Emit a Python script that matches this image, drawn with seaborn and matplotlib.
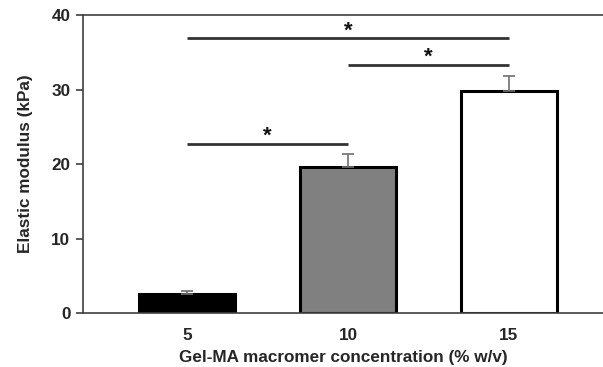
import numpy as np
import pandas as pd
import seaborn as sns
import matplotlib.pyplot as plt

sns.set_style("white")
plt.rcParams['font.family'] = ['Liberation Sans', 'DejaVu Sans']
plt.rcParams['font.weight'] = 'bold'

# data
conc = ["5", "10", "15"]
modulus = [2.5, 19.6, 29.8]
sd = [0.4, 1.8, 2.0]
bar_colors = ["#000000", "#808080", "#ffffff"]

# significance brackets: (from, to, height)
sig_from = [0, 1, 0]
sig_to = [1, 2, 2]
sig_y = [22.7, 33.3, 36.9]

df = pd.DataFrame({"conc": conc, "modulus": modulus})

fig = plt.figure(figsize=(6.03, 3.67), dpi=100)
ax = fig.add_axes([0.1376, 0.147, 0.8624, 0.812])

sns.barplot(data=df, x="conc", y="modulus", hue="conc", palette=bar_colors,
            legend=False, edgecolor="black", linewidth=2.2, width=0.6,
            errorbar=None, ax=ax)
ax.errorbar(range(len(conc)), modulus, yerr=[[0] * len(sd), sd], fmt="none",
            ecolor="#707070", elinewidth=1.2, capsize=4, capthick=1.2, zorder=1)

for a, b, h in zip(sig_from, sig_to, sig_y):
    ax.plot([a, b], [h, h], color="#333333", lw=2, solid_capstyle="butt")
    ax.text((a + b) / 2, h + 0.25, "*", ha="center", va="baseline",
            fontsize=16, fontweight="bold", color="#111111")

ax.set_ylim(0, 40)
ax.set_xlim(-0.646, 2.584)
ax.set_yticks([0, 10, 20, 30, 40])
ax.set_xlabel("Gel-MA macromer concentration (% w/v)", fontsize=12.3,
              fontweight="bold", labelpad=5)
ax.set_ylabel("Elastic modulus (kPa)", fontsize=12.3, fontweight="bold", labelpad=13)
ax.tick_params(axis="y", which="major", left=True, length=5, width=1.2,
               color="#404040", labelsize=12.3, pad=4)
ax.tick_params(axis="x", bottom=False, labelsize=12.3, pad=7)
for lab in ax.get_xticklabels() + ax.get_yticklabels():
    lab.set_fontweight("bold")

for side in ["left", "bottom", "top"]:
    ax.spines[side].set_color("#404040")
    ax.spines[side].set_linewidth(1.2)
ax.spines["right"].set_visible(False)

fig.savefig("out.png", dpi=100)
